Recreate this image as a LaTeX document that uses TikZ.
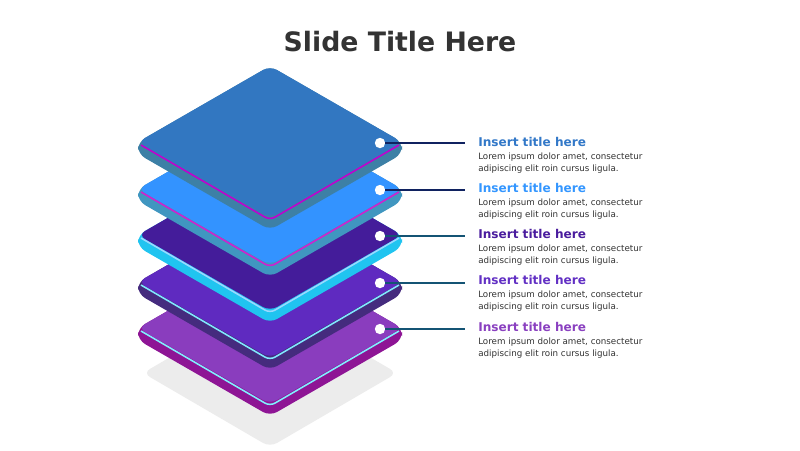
\documentclass[tikz,border=0pt]{standalone}
\usepackage{fontspec}
\setmainfont{DejaVu Sans}
\begin{document}
\begin{tikzpicture}[x=0.025cm,y=-0.025cm,
    side/.style={rounded corners=5.7pt},
    face/.style={rounded corners=5.7pt},
    edge/.style={line width=1.1pt,rounded corners=4pt},
    dot/.style={circle,fill=white,inner sep=0pt,minimum size=7.4pt},
    lead/.style={line width=0.8pt},
    head/.style={anchor=west,font=\bfseries\fontsize{8.6}{10}\selectfont,inner sep=0pt},
    body/.style={anchor=north west,align=left,text=black!80,font=\fontsize{6.2}{8.5}\selectfont,inner sep=0pt}]
  \useasboundingbox (0,0) rectangle (800,450);
  \fill[white] (0,0) rectangle (800,450);
  % title
  \node (title) at (400,42) {\bfseries\fontsize{19}{23}\selectfont\color[HTML]{333333}Slide Title Here};
  % shadow
  \fill[side,fill={rgb,255:red,236;green,236;blue,236}]
    (270,299) -- (397,373) -- (270,447) -- (143,373) -- cycle;
  % layer 5
  \fill[side,fill={rgb,255:red,142;green,21;blue,149}]
    (270,252) -- (402,328) -- (402,340) -- (270,416) -- (138,340) -- (138,328) -- cycle;
  \fill[face,fill={rgb,255:red,138;green,61;blue,190}]
    (270,252) -- (402,328) -- (270,404) -- (138,328) -- cycle;
  \draw[edge,draw={rgb,255:red,128;green,240;blue,255}]
    (141,331) -- (270,406) -- (399,331);
  % layer 4
  \fill[side,fill={rgb,255:red,69;green,43;blue,126}]
    (270,206) -- (402,282) -- (402,294) -- (270,370) -- (138,294) -- (138,282) -- cycle;
  \fill[face,fill={rgb,255:red,95;green,42;blue,192}]
    (270,206) -- (402,282) -- (270,358) -- (138,282) -- cycle;
  \draw[edge,draw={rgb,255:red,128;green,232;blue,255}]
    (141,285) -- (270,360) -- (399,285);
  % layer 3
  \fill[side,fill={rgb,255:red,32;green,196;blue,240}]
    (270,159) -- (402,235) -- (402,247) -- (270,323) -- (138,247) -- (138,235) -- cycle;
  \fill[face,fill={rgb,255:red,68;green,28;blue,154}]
    (270,159) -- (402,235) -- (270,311) -- (138,235) -- cycle;
  \draw[edge,draw={rgb,255:red,154;green,216;blue,255}]
    (141,238) -- (270,313) -- (399,238);
  % layer 2
  \fill[side,fill={rgb,255:red,64;green,150;blue,192}]
    (270,113) -- (402,189) -- (402,201) -- (270,277) -- (138,201) -- (138,189) -- cycle;
  \fill[face,fill={rgb,255:red,51;green,147;blue,255}]
    (270,113) -- (402,189) -- (270,265) -- (138,189) -- cycle;
  \draw[edge,draw={rgb,255:red,208;green,32;blue,208}]
    (141,192) -- (270,267) -- (399,192);
  % layer 1
  \fill[side,fill={rgb,255:red,61;green,128;blue,166}]
    (270,66) -- (402,142) -- (402,154) -- (270,230) -- (138,154) -- (138,142) -- cycle;
  \fill[face,fill={rgb,255:red,50;green,119;blue,193}]
    (270,66) -- (402,142) -- (270,218) -- (138,142) -- cycle;
  \draw[edge,draw={rgb,255:red,192;green,0;blue,208}]
    (141,145) -- (270,220) -- (399,145);
  % dots and leaders
  \node[dot] (dot1) at (380,143) {};
  \node[dot] (dot2) at (380,190) {};
  \node[dot] (dot3) at (380,236) {};
  \node[dot] (dot4) at (380,283) {};
  \node[dot] (dot5) at (380,329) {};
  \coordinate (tip1) at (465,143);
  \coordinate (tip2) at (465,190);
  \coordinate (tip3) at (465,236);
  \coordinate (tip4) at (465,283);
  \coordinate (tip5) at (465,329);
  \draw[lead,draw={rgb,255:red,16;green,34;blue,96}] (dot1) -- (tip1);
  \draw[lead,draw={rgb,255:red,16;green,34;blue,96}] (dot2) -- (tip2);
  \draw[lead,draw={rgb,255:red,20;green,84;blue,116}] (dot3) -- (tip3);
  \draw[lead,draw={rgb,255:red,20;green,84;blue,116}] (dot4) -- (tip4);
  \draw[lead,draw={rgb,255:red,20;green,84;blue,116}] (dot5) -- (tip5);
  % texts
  \node[head,text={rgb,255:red,50;green,120;blue,200}] (head1) at (478,142) {Insert title here};
  \node[body] (body1) at (478,152.5) {Lorem ipsum dolor amet, consectetur\\adipiscing elit roin cursus ligula.};
  \node[head,text={rgb,255:red,51;green,150;blue,255}] (head2) at (478,188) {Insert title here};
  \node[body] (body2) at (478,198.5) {Lorem ipsum dolor amet, consectetur\\adipiscing elit roin cursus ligula.};
  \node[head,text={rgb,255:red,74;green,28;blue,158}] (head3) at (478,234) {Insert title here};
  \node[body] (body3) at (478,244.5) {Lorem ipsum dolor amet, consectetur\\adipiscing elit roin cursus ligula.};
  \node[head,text={rgb,255:red,98;green,48;blue,196}] (head4) at (478,280) {Insert title here};
  \node[body] (body4) at (478,290.5) {Lorem ipsum dolor amet, consectetur\\adipiscing elit roin cursus ligula.};
  \node[head,text={rgb,255:red,138;green,64;blue,192}] (head5) at (478,327) {Insert title here};
  \node[body] (body5) at (478,337.5) {Lorem ipsum dolor amet, consectetur\\adipiscing elit roin cursus ligula.};
\end{tikzpicture}
\end{document}
